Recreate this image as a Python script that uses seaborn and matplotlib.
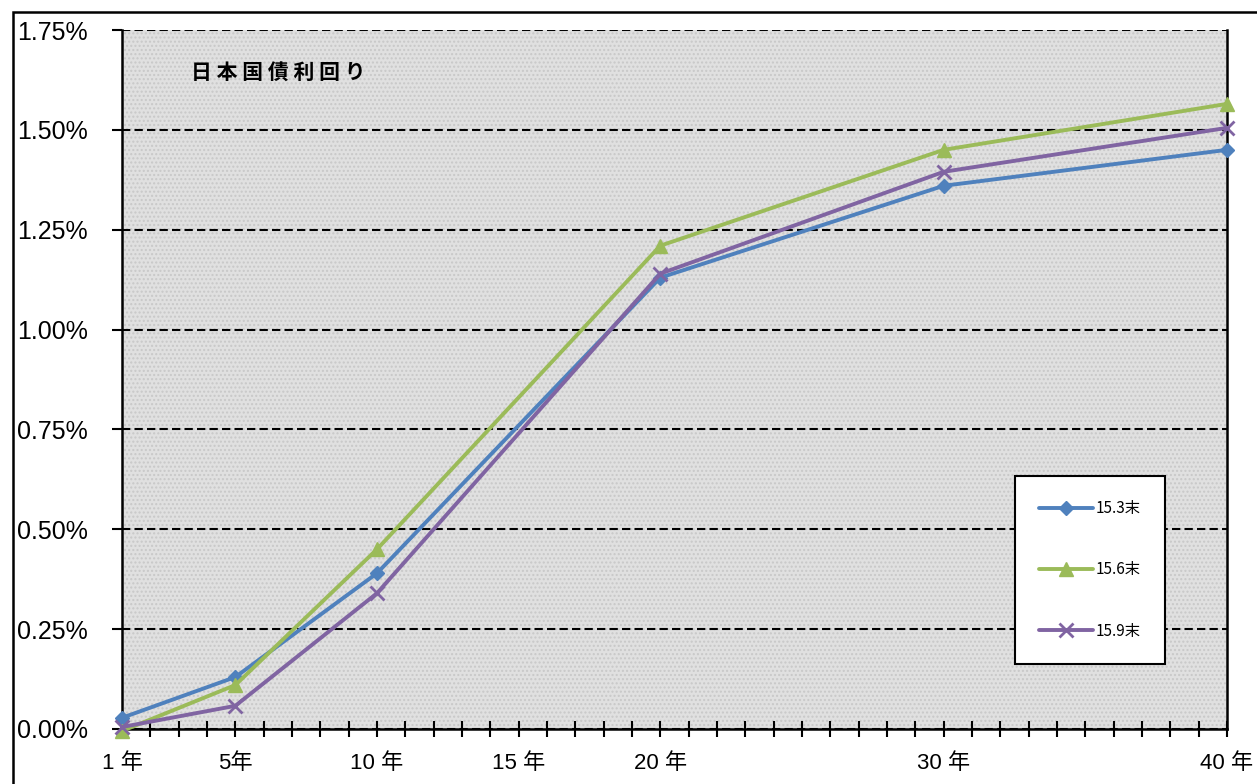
"""
日本国債利回り（イールドカーブ）
15.3末 / 15.6末 / 15.9末 の比較
"""
import numpy as np
import pandas as pd
import matplotlib.pyplot as plt
import seaborn as sns
from matplotlib.patches import Rectangle
from matplotlib.ticker import FixedLocator, MultipleLocator, FuncFormatter

# データ（年限, 利回り%）
years = [1, 5, 10, 20, 30, 40]
yield_1503 = [0.028, 0.13, 0.39, 1.13, 1.36, 1.45]
yield_1506 = [-0.005, 0.11, 0.45, 1.21, 1.45, 1.565]
yield_1509 = [0.005, 0.058, 0.34, 1.14, 1.395, 1.505]
series_names = ['15.3末', '15.6末', '15.9末']
tick_years = [1, 5, 10, 15, 20, 30, 40]
tick_labels = ['1 年', '5年', '10 年', '15 年', '20 年', '30 年', '40 年']

colors = ['#4F81BD', '#9BBB59', '#8064A2']
markers = ['D', '^', 'x']
msizes = [7, 10, 10]

sns.set_style('white')
plt.rcParams['font.family'] = ['Liberation Sans', 'Noto Sans CJK JP', 'DejaVu Sans']
plt.rcParams['text.color'] = 'black'
plt.rcParams['xtick.color'] = 'black'
plt.rcParams['ytick.color'] = 'black'

fig = plt.figure(figsize=(12.57, 7.84), dpi=100)
ax = fig.add_axes([122 / 1257, 1 - 729 / 784, 1105 / 1257, 699 / 784])

# 背景（灰色の点模様）
ax.set_facecolor('#e0e0e0')
ax.add_patch(Rectangle((0, 0), 1, 1, transform=ax.transAxes, facecolor='none',
                       edgecolor='#c8c8c8', hatch='....', linewidth=0, zorder=0))

df = pd.DataFrame({'year': years * 3,
                   'yield': yield_1503 + yield_1506 + yield_1509,
                   'series': sum([[n] * len(years) for n in series_names], [])})

for name, c, m, ms in zip(series_names, colors, markers, msizes):
    sub = df[df['series'] == name]
    sns.lineplot(data=sub, x='year', y='yield', ax=ax, color=c, marker=m,
                 markersize=ms, markeredgecolor=c, markeredgewidth=2.0 if m == 'x' else 1,
                 linewidth=2.8, label=name, clip_on=False, zorder=3)

ax.set_xlim(1, 40)
ax.set_ylim(0, 1.75)

# 目盛り
ax.yaxis.set_major_locator(MultipleLocator(0.25))
ax.yaxis.set_major_formatter(FuncFormatter(lambda v, p: f'{v:.2f}%'))
ax.tick_params(axis='y', which='major', left=True, direction='out', length=7,
               width=1.5, color='black', labelcolor='black', labelsize=18, pad=18)
ax.xaxis.set_major_locator(FixedLocator(tick_years))
ax.set_xticklabels(tick_labels)
ax.xaxis.set_minor_locator(MultipleLocator(1))
ax.tick_params(axis='x', which='both', bottom=True, direction='inout', length=11,
               width=1.5, color='black', labelcolor='black', labelsize=16, pad=12)
for lab in ax.get_yticklabels():
    lab.set_horizontalalignment('left')
    lab.set_x(-95 / 1105)
ax.tick_params(axis='y', pad=0)

ax.grid(axis='y', color='black', linestyle=(0, (4, 2)), linewidth=1.5)
ax.set_axisbelow(False)
for ln in ax.get_ygridlines():
    ln.set_zorder(1)
ax.set_xlabel('')
ax.set_ylabel('')

for s in ['left', 'bottom', 'right']:
    ax.spines[s].set_visible(True)
    ax.spines[s].set_color('black')
    ax.spines[s].set_linewidth(1.8)
ax.spines['top'].set_visible(False)

ax.text(0.062, 0.94, '日 本 国 債 利 回 り', transform=ax.transAxes, fontsize=15,
        fontweight='bold', color='black', family=['Noto Sans CJK JP'],
        va='center', ha='left')

leg = ax.legend(loc='center', bbox_to_anchor=(0.81, 0.096, 0.132, 0.263),
                frameon=True, fancybox=False, handlelength=3.5,
                labelspacing=2.9, borderpad=1.6, handletextpad=0.2,
                prop={'family': ['Liberation Sans Narrow', 'Noto Sans CJK JP'], 'size': 11})
leg.get_frame().set_edgecolor('black')
leg.get_frame().set_linewidth(1.5)
leg.get_frame().set_facecolor('white')
leg.get_frame().set_alpha(1)
for t in leg.get_texts():
    t.set_color('black')

# 外枠
fig.add_artist(Rectangle((13 / 1257, -0.05), 1.2, 1 - 12 / 784 + 0.05,
                         transform=fig.transFigure, facecolor='none',
                         edgecolor='black', linewidth=1.8))

fig.savefig('out.png', dpi=100)
